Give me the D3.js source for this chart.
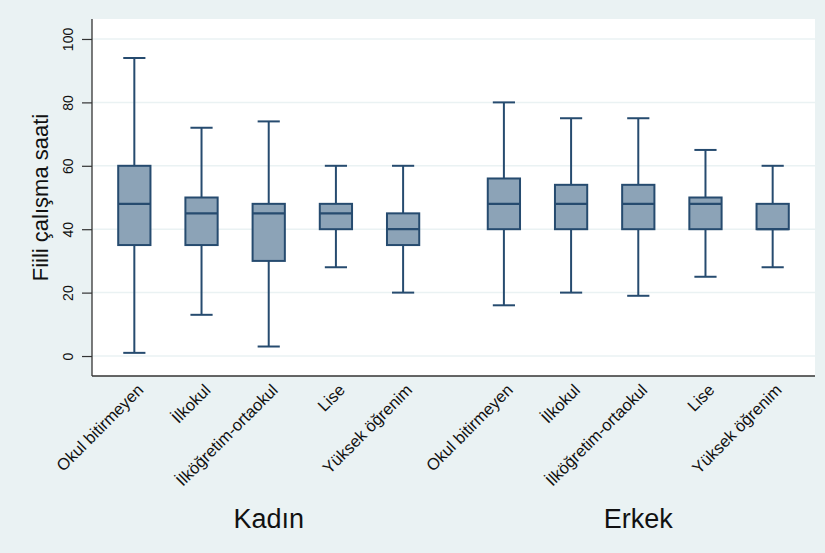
<!DOCTYPE html>
<html>
<head>
<meta charset="utf-8">
<script src="https://cdn.jsdelivr.net/npm/d3@7"></script>
<style>
  body { margin: 0; background: #eaf2f3; }
  svg { display: block; font-family: "Liberation Sans", Arial, sans-serif; }
</style>
</head>
<body>
<svg id="chart" width="825" height="553"></svg>
<script>
// education levels, repeated for each sex
const categories = ['Okul bitirmeyen', 'İlkokul', 'İlköğretim-ortaokul', 'Lise', 'Yüksek öğrenim']
const groups = ['Kadın', 'Erkek']
const yTicks = [0, 20, 40, 60, 80, 100]

// box plot stats (hours), one array per group
const kadinLow = [1, 13, 3, 28, 20]
const kadinQ1 = [35, 35, 30, 40, 35]
const kadinMed = [48, 45, 45, 45, 40]
const kadinQ3 = [60, 50, 48, 48, 45]
const kadinHigh = [94, 72, 74, 60, 60]

const erkekLow = [16, 20, 19, 25, 28]
const erkekQ1 = [40, 40, 40, 40, 40]
const erkekMed = [48, 48, 48, 48, 40]
const erkekQ3 = [56, 54, 54, 50, 48]
const erkekHigh = [80, 75, 75, 65, 60]

const stats = [
  { low: kadinLow, q1: kadinQ1, med: kadinMed, q3: kadinQ3, high: kadinHigh },
  { low: erkekLow, q1: erkekQ1, med: erkekMed, q3: erkekQ3, high: erkekHigh }
]

// flatten into one row per box; groups are separated by a half-slot gap
const boxes = []
stats.forEach(function (s, g) {
  categories.forEach(function (c, i) {
    boxes.push({
      group: g,
      label: c,
      pos: g * (categories.length + 0.5) + i,
      low: s.low[i], q1: s.q1[i], med: s.med[i], q3: s.q3[i], high: s.high[i]
    })
  })
})

const plot = { left: 92, right: 815, top: 19, bottom: 376 }
const stroke = '#264b6f'
const fill = '#8ca3b7'

const svg = d3.select('#chart')

const x = d3.scaleLinear().domain([-0.63, 10.13]).range([plot.left, plot.right])
const y = d3.scaleLinear().domain([-6.3, 106.3]).range([plot.bottom, plot.top])

const boxW = 0.48
const capW = 0.33

// plot region
svg.append('rect')
  .attr('x', plot.left).attr('y', plot.top)
  .attr('width', plot.right - plot.left).attr('height', plot.bottom - plot.top)
  .attr('fill', 'white')

// grid
svg.append('g')
  .selectAll('line')
  .data(yTicks)
  .enter()
  .append('line')
  .attr('x1', plot.left).attr('x2', plot.right)
  .attr('y1', function (d) { return y(d) }).attr('y2', function (d) { return y(d) })
  .attr('stroke', '#eaf2f3')
  .attr('stroke-width', 1.5)

// y axis
const yAxis = svg.append('g')
  .attr('transform', 'translate(' + plot.left + ',0)')
  .call(d3.axisLeft(y).tickValues(yTicks).tickSize(10).tickPadding(0).tickSizeOuter(0))
yAxis.select('.domain').remove()
yAxis.selectAll('.tick line').attr('stroke', '#333').attr('stroke-width', 1.2)
yAxis.selectAll('.tick text')
  .attr('font-size', 14)
  .attr('fill', '#111')
  .attr('text-anchor', 'middle')
  .attr('x', 0).attr('dy', 0)
  .attr('transform', 'translate(-24,0) rotate(-90)')
  .attr('dominant-baseline', 'central')

svg.append('line')
  .attr('x1', plot.left).attr('x2', plot.left)
  .attr('y1', plot.top).attr('y2', plot.bottom)
  .attr('stroke', '#333').attr('stroke-width', 1.3)
svg.append('line')
  .attr('x1', plot.left).attr('x2', plot.right)
  .attr('y1', plot.bottom).attr('y2', plot.bottom)
  .attr('stroke', '#333').attr('stroke-width', 1.3)

svg.append('text')
  .attr('transform', 'translate(48,' + ((plot.top + plot.bottom) / 2) + ') rotate(-90)')
  .attr('text-anchor', 'middle')
  .attr('font-size', 22)
  .attr('fill', '#111')
  .text('Fiili çalışma saati')

// boxes
const bx = svg.append('g')
  .selectAll('g')
  .data(boxes)
  .enter()
  .append('g')

bx.append('line') // whisker
  .attr('x1', function (d) { return x(d.pos) }).attr('x2', function (d) { return x(d.pos) })
  .attr('y1', function (d) { return y(d.low) }).attr('y2', function (d) { return y(d.high) })
  .attr('stroke', stroke).attr('stroke-width', 2)

bx.selectAll('.cap')
  .data(function (d) { return [{ pos: d.pos, v: d.low }, { pos: d.pos, v: d.high }] })
  .enter()
  .append('line')
  .attr('class', 'cap')
  .attr('x1', function (d) { return x(d.pos - capW / 2) }).attr('x2', function (d) { return x(d.pos + capW / 2) })
  .attr('y1', function (d) { return y(d.v) }).attr('y2', function (d) { return y(d.v) })
  .attr('stroke', stroke).attr('stroke-width', 2)

bx.append('rect')
  .attr('x', function (d) { return x(d.pos - boxW / 2) })
  .attr('width', function (d) { return x(boxW) - x(0) })
  .attr('y', function (d) { return y(d.q3) })
  .attr('height', function (d) { return y(d.q1) - y(d.q3) })
  .attr('fill', fill)
  .attr('stroke', stroke).attr('stroke-width', 2)

bx.append('line') // median
  .attr('x1', function (d) { return x(d.pos - boxW / 2) }).attr('x2', function (d) { return x(d.pos + boxW / 2) })
  .attr('y1', function (d) { return y(d.med) }).attr('y2', function (d) { return y(d.med) })
  .attr('stroke', stroke).attr('stroke-width', 2.2)

// category labels
svg.append('g')
  .selectAll('text')
  .data(boxes)
  .enter()
  .append('text')
  .attr('transform', function (d) { return 'translate(' + (x(d.pos) + 6) + ',' + (plot.bottom + 11) + ') rotate(-45)' })
  .attr('text-anchor', 'end')
  .attr('dy', '0.35em')
  .attr('font-size', 16.5)
  .attr('fill', '#111')
  .text(function (d) { return d.label })

// group labels under the middle box of each group
svg.append('g')
  .selectAll('text')
  .data(groups)
  .enter()
  .append('text')
  .attr('x', function (d, g) { return x(g * (categories.length + 0.5) + (categories.length - 1) / 2) })
  .attr('y', 528)
  .attr('text-anchor', 'middle')
  .attr('font-size', 27)
  .attr('fill', '#111')
  .text(function (d) { return d })
</script>
</body>
</html>
